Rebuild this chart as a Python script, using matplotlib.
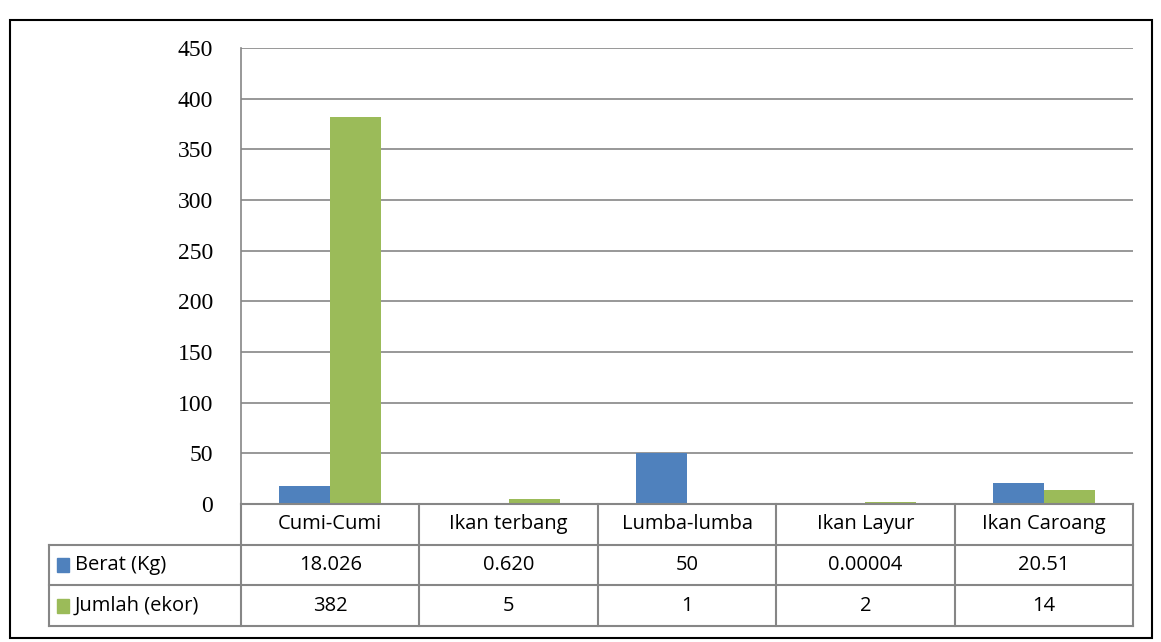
import numpy as np
import matplotlib.pyplot as plt
from matplotlib.patches import Rectangle

# data
kategori = ['Cumi-Cumi', 'Ikan terbang', 'Lumba-lumba', 'Ikan Layur', 'Ikan Caroang']
berat = [18.026, 0.620, 50, 0.00004, 20.51]
jumlah = [382, 5, 1, 2, 14]
berat_txt = ['18.026', '0.620', '50', '0.00004', '20.51']
jumlah_txt = ['382', '5', '1', '2', '14']
seri = ['Berat (Kg)', 'Jumlah (ekor)']
warna = ['#4F81BD', '#9BBB59']

W, H = 1161, 642
fig = plt.figure(figsize=(W / 100, H / 100), dpi=100)
garis = '#868686'

def px(x0, y0, x1, y1):
    return [x0 / W, 1 - y1 / H, (x1 - x0) / W, (y1 - y0) / H]

# border luar
fig.patches.append(Rectangle((10 / W, 1 - 638 / H), 1142 / W, 618 / H,
                             transform=fig.transFigure, fill=False,
                             edgecolor='black', lw=1.5))

#%% grafik batang
ax = fig.add_axes(px(241, 48, 1133, 504))
n = len(kategori)
x = np.arange(n) + 0.5
bw = 1 / 3.5
ax.bar(x - bw / 2, berat, bw, color=warna[0], zorder=3)
ax.bar(x + bw / 2, jumlah, bw, color=warna[1], zorder=3)
ax.set_xlim(0, n)
ax.set_ylim(0, 450)
ax.set_yticks(np.arange(0, 451, 50))
ax.set_xticks([])
ax.yaxis.grid(True, color=garis, lw=1.2, zorder=0)
for s in ['top', 'right', 'bottom']:
    ax.spines[s].set_visible(False)
ax.spines['left'].set_color(garis)
ax.spines['left'].set_linewidth(1.2)
ax.tick_params(axis='y', length=0, pad=20, labelsize=17)
for t in ax.get_yticklabels():
    t.set_family('Liberation Serif')

#%% tabel data
kiri = 192 / ((1133 - 241) / n)
tab = fig.add_axes(px(49, 504, 1133, 626))
tab.set_xlim(-kiri, n)
tab.set_ylim(0, 3)
tab.axis('off')
kw = dict(color=garis, lw=1.5, clip_on=False)
tab.plot([0, n], [3, 3], **kw)
for yy in [0, 1, 2]:
    tab.plot([-kiri, n], [yy, yy], **kw)
tab.plot([-kiri, -kiri], [0, 2], **kw)
for xx in range(n + 1):
    tab.plot([xx, xx], [0, 3], **kw)

fnt = dict(family='Open Sans', fontsize=14.5, ha='center', va='center')
for i in range(n):
    tab.text(i + 0.5, 2.5, kategori[i], **fnt)
    tab.text(i + 0.5, 1.5, berat_txt[i], **fnt)
    tab.text(i + 0.5, 0.5, jumlah_txt[i], **fnt)
for j, (nama, c) in enumerate(zip(seri, warna)):
    yy = 1.5 - j
    tab.add_patch(Rectangle((-kiri + 0.045, yy - 0.17), 0.068, 0.34, color=c))
    tab.text(-kiri + 0.145, yy, nama, family='Open Sans', fontsize=14.5,
             ha='left', va='center')

fig.savefig('out.png', dpi=100)
